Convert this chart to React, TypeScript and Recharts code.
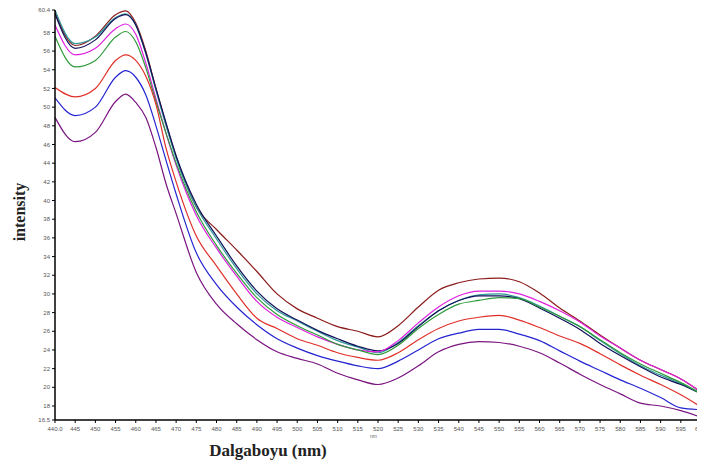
import React from "react";
import { LineChart, Line, XAxis, YAxis } from "recharts";

const wavelengths = [440, 445, 450, 455, 457.5, 460, 462.5, 465, 467.5, 470, 475, 480, 485, 490, 495, 500, 505, 510, 515, 520, 525, 530, 535, 540, 545, 550, 555, 560, 565, 570, 575, 580, 585, 590, 595, 600];

const maroon = [60.2, 56.6, 57.6, 59.9, 60.3, 59.0, 56.0, 52.0, 48.2, 44.7, 39.3, 36.9, 34.7, 32.4, 30.0, 28.4, 27.4, 26.5, 26.0, 25.4, 26.6, 28.6, 30.4, 31.2, 31.6, 31.7, 31.3, 30.1, 28.5, 27.1, 25.6, 24.2, 22.9, 21.9, 20.9, 19.5];
const teal = [60.4, 56.8, 57.5, 59.6, 60.0, 58.8, 55.7, 51.8, 48.0, 44.5, 39.3, 35.9, 32.7, 30.0, 28.2, 27.1, 26.0, 25.0, 24.3, 23.7, 24.8, 26.6, 28.2, 29.3, 29.9, 30.0, 29.6, 28.7, 27.6, 26.5, 25.0, 23.6, 22.3, 21.3, 20.4, 19.4];
const navy = [60.0, 56.3, 57.2, 59.5, 59.9, 58.8, 55.8, 52.0, 48.3, 44.8, 39.6, 36.2, 33.0, 30.3, 28.4, 27.2, 26.1, 25.2, 24.4, 23.9, 24.7, 26.5, 28.2, 29.3, 29.8, 29.8, 29.5, 28.5, 27.4, 26.2, 24.7, 23.4, 22.2, 21.1, 20.3, 19.3];
const magenta = [58.8, 55.6, 56.3, 58.4, 58.9, 57.8, 54.7, 50.9, 47.2, 43.8, 38.4, 34.9, 31.9, 29.2, 27.5, 26.4, 25.4, 24.6, 24.0, 23.8, 25.0, 26.9, 28.6, 29.8, 30.3, 30.3, 30.0, 29.2, 28.2, 27.0, 25.5, 24.2, 22.9, 21.9, 20.9, 19.5];
const green = [57.6, 54.3, 55.0, 57.5, 58.1, 57.0, 54.2, 50.6, 47.2, 44.0, 38.8, 35.2, 32.2, 29.6, 27.8, 26.6, 25.6, 24.6, 24.0, 23.5, 24.5, 26.3, 27.8, 28.9, 29.3, 29.6, 29.5, 28.6, 27.6, 26.5, 25.1, 23.7, 22.5, 21.5, 20.5, 19.3];
const red = [52.1, 51.1, 52.0, 55.0, 55.6, 55.0, 53.3, 50.3, 45.6, 42.0, 36.2, 33.0, 30.0, 27.4, 26.3, 25.2, 24.5, 23.7, 23.2, 22.9, 23.7, 25.1, 26.3, 27.1, 27.5, 27.7, 27.2, 26.4, 25.5, 24.7, 23.6, 22.4, 21.3, 20.3, 19.2, 17.9];
const blue = [51.0, 49.1, 50.0, 53.2, 53.9, 53.2, 51.3, 48.0, 44.3, 40.7, 34.4, 31.0, 28.6, 26.7, 25.2, 24.2, 23.4, 22.8, 22.3, 22.0, 22.8, 24.0, 25.2, 25.8, 26.2, 26.2, 25.7, 25.0, 23.9, 22.8, 21.8, 20.8, 19.9, 18.9, 17.8, 17.6];
const purple = [48.9, 46.3, 47.3, 50.6, 51.4, 50.5, 48.9, 45.7, 41.8, 38.6, 32.3, 28.9, 26.8, 25.1, 23.8, 23.1, 22.5, 21.5, 20.8, 20.3, 21.0, 22.3, 23.8, 24.6, 24.9, 24.8, 24.4, 23.7, 22.6, 21.4, 20.3, 19.3, 18.3, 18.0, 17.5, 16.8];

const xTicks = [440, 445, 450, 455, 460, 465, 470, 475, 480, 485, 490, 495, 500, 505, 510, 515, 520, 525, 530, 535, 540, 545, 550, 555, 560, 565, 570, 575, 580, 585, 590, 595, 600];
const yTicks = [16.5, 18, 20, 22, 24, 26, 28, 30, 32, 34, 36, 38, 40, 42, 44, 46, 48, 50, 52, 54, 56, 58, 60.4];

const series = [
  { key: "maroon", values: maroon, color: "#8b1c1c" },
  { key: "teal", values: teal, color: "#2f9a9a" },
  { key: "navy", values: navy, color: "#10105a" },
  { key: "magenta", values: magenta, color: "#e020e0" },
  { key: "green", values: green, color: "#2e9a3a" },
  { key: "red", values: red, color: "#e0302a" },
  { key: "blue", values: blue, color: "#2424d0" },
  { key: "purple", values: purple, color: "#7a1580" },
];

const data = wavelengths.map((w, i) => {
  const row: Record<string, number> = { nm: w };
  series.forEach((s) => {
    row[s.key] = s.values[i];
  });
  return row;
});

const fmtX = (v: number) => (v === 440 ? "440.0" : String(v));
const fmtY = (v: number) => String(v);

const XTick = (props: any) => {
  const { x, y, payload } = props;
  const v = payload.value as number;
  const last = v === 600;
  return (
    <text
      x={last ? x + 4 : x}
      y={y + 6}
      textAnchor={last ? "end" : "middle"}
      fontSize={6}
      fill="#555"
      fontFamily="Liberation Sans"
    >
      {fmtX(v)}
    </text>
  );
};

export default function App() {
  return (
    <div style={{ position: "relative", width: 697, height: 456 }}>
      <LineChart
        width={697}
        height={456}
        data={data}
        margin={{ top: 2, right: 4, bottom: 14, left: 7 }}
        style={{ overflow: "visible" }}
      >
        <XAxis
          dataKey="nm"
          type="number"
          domain={[440, 600]}
          ticks={xTicks}
          interval={0}
          height={30}
          axisLine={{ stroke: "#000", strokeWidth: 1.5 }}
          tickLine={{ stroke: "#000" }}
          tickSize={3}
          tick={<XTick />}
          allowDataOverflow
        />
        <YAxis
          type="number"
          domain={[16.5, 60.4]}
          ticks={yTicks}
          tickFormatter={fmtY}
          interval={0}
          width={40}
          axisLine={{ stroke: "#000", strokeWidth: 1.5 }}
          tickLine={{ stroke: "#000" }}
          tickSize={3}
          tick={{ fontSize: 6, fill: "#555", fontFamily: "Liberation Sans" }}
          allowDataOverflow
        />
        {series.map((s) => (
          <Line
            key={s.key}
            dataKey={s.key}
            type="monotone"
            stroke={s.color}
            strokeWidth={1.2}
            dot={false}
            isAnimationActive={false}
          />
        ))}
      </LineChart>
      <div
        style={{
          position: "absolute",
          left: 370 - 8,
          top: 433 - 8,
          fontSize: 5,
          color: "#666",
          fontFamily: "Liberation Sans",
        }}
      >
        nm
      </div>
      <div
        style={{
          position: "absolute",
          left: 10 - 8 - 40,
          top: 212 - 8 - 10,
          width: 100,
          textAlign: "center",
          transform: "rotate(-90deg)",
          fontFamily: "Liberation Serif",
          fontWeight: "bold",
          fontSize: 16,
          color: "#222",
          lineHeight: "20px",
        }}
      >
        intensity
      </div>
      <div
        style={{
          position: "absolute",
          left: 268 - 8 - 100,
          top: 451 - 8 - 10,
          width: 200,
          textAlign: "center",
          fontFamily: "Liberation Serif",
          fontWeight: "bold",
          fontSize: 17,
          color: "#222",
          lineHeight: "20px",
        }}
      >
        Dalgaboyu (nm)
      </div>
    </div>
  );
}
